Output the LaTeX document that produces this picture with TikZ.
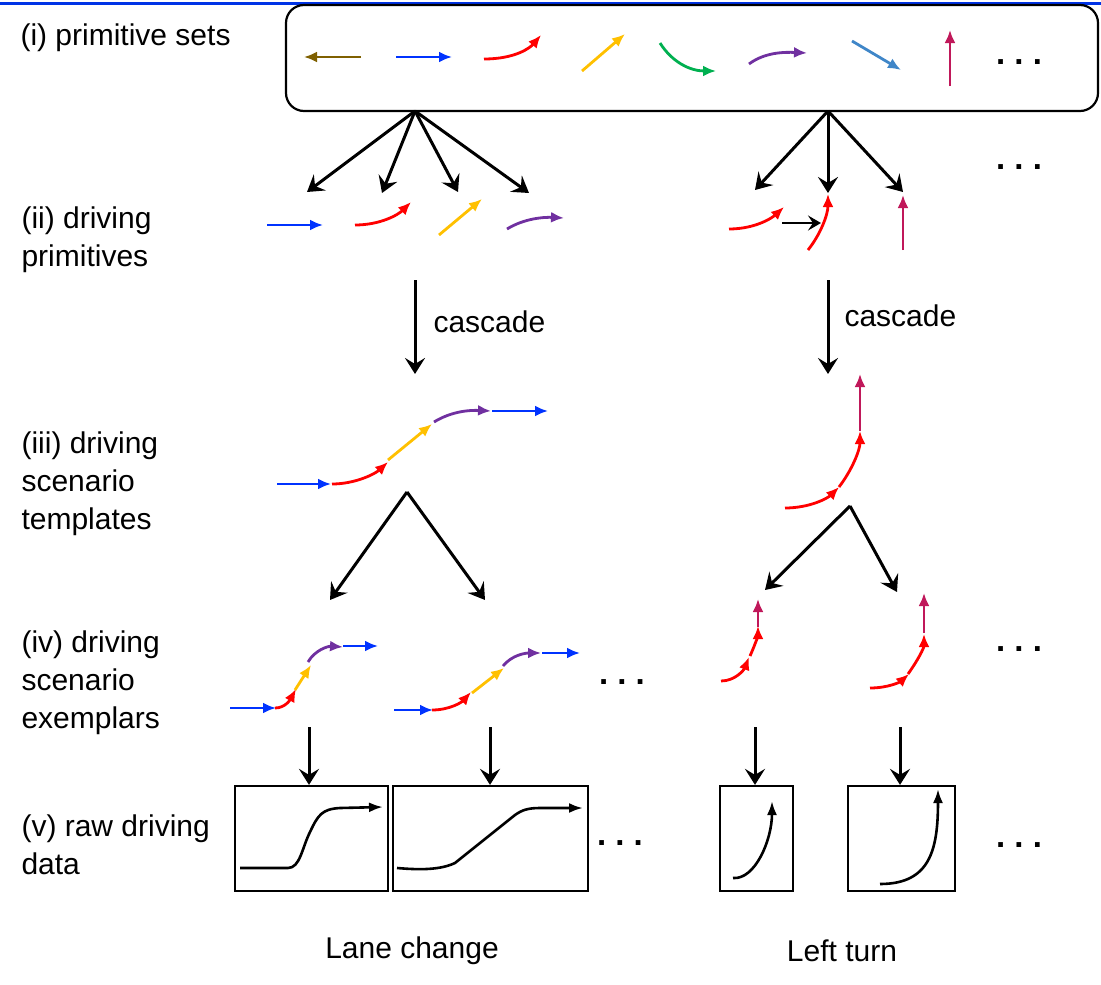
\documentclass[tikz,border=0pt]{standalone}
\usepackage{fontspec}
\setmainfont{Liberation Sans}
\usetikzlibrary{arrows.meta}
\definecolor{rulecol}{HTML}{0033E6}
\definecolor{primbrown}{HTML}{7F6000}
\definecolor{primblue}{HTML}{0033FF}
\definecolor{primred}{HTML}{FF0000}
\definecolor{primyellow}{HTML}{FFC000}
\definecolor{primgreen}{HTML}{00B050}
\definecolor{primpurple}{HTML}{7030A0}
\definecolor{primsteel}{HTML}{3F86C8}
\definecolor{primcrimson}{HTML}{C0185A}

\tikzset{
  prim/.style={line width=2.8pt, -{Latex[length=13pt,width=11pt]}},
  flow/.style={line width=3pt, -{Stealth[length=16pt,width=20pt,inset=6pt]}},
  link/.style={line width=2.8pt, -{Stealth[length=13pt,width=15pt,inset=5pt]}},
  rawbox/.style={draw, line width=2.2pt, inner sep=0pt},
  trace/.style={line width=2.6pt, -{Latex[length=14pt,width=10pt]}},
  lbl/.style={anchor=west, align=left, font=\fontsize{30}{38}\selectfont},
  dots/.style={font=\fontsize{33}{38}\selectfont\bfseries}
}

\begin{document}
\begin{tikzpicture}[x=1pt,y=-1pt]
  \useasboundingbox (0,0) rectangle (1101,985);
  \draw [rulecol, line width=3pt] (0,3) -- (1101,3);

  % (i) primitive sets
  \node[lbl] (lbli) at (17,38) {(i) primitive sets};
  \node[draw, line width=2.2pt, rounded corners=18pt, minimum width=812pt, minimum height=106pt] (sets) at (692,58) {};
  \draw [prim, primbrown] (361,57) -- (304,57);
  \draw [prim, primblue] (396,57) -- (452,57);
  \draw [prim, primred] (484,59) .. controls (515,59) and (530,48) .. (541,35);
  \draw [prim, primyellow] (582,71) -- (625,34);
  \draw [prim, primgreen] (660,43) .. controls (672,62) and (690,71) .. (716,71);
  \draw [prim, primpurple] (749,64) .. controls (765,52) and (785,52) .. (807,53);
  \draw [prim, primsteel] (852,41) -- (901,70);
  \draw [prim, primcrimson] (950,86) -- (950,30);
  \node[dots] (dotsi) at (1019,62) {.\ .\ .};

  % (ii) driving primitives
  \node[lbl] (lblii) at (18,240) {(ii) driving\\primitives};
  \coordinate (fanL) at (415,111);
  \coordinate (fanR) at (828,111);
  \coordinate (iiA) at (307,192);
  \coordinate (iiB) at (382,193);
  \coordinate (iiC) at (458,192);
  \coordinate (iiD) at (529,193);
  \coordinate (iiE) at (755,190);
  \coordinate (iiF) at (828,193);
  \coordinate (iiG) at (903,192);
  \draw [flow] (fanL) -- (iiA);
  \draw [flow] (fanL) -- (iiB);
  \draw [flow] (fanL) -- (iiC);
  \draw [flow] (fanL) -- (iiD);
  \draw [flow] (fanR) -- (iiE);
  \draw [flow] (fanR) -- (iiF);
  \draw [flow] (fanR) -- (iiG);
  \draw [prim, primblue] (267,225) -- (323,225);
  \draw [prim, primred] (355,225) .. controls (380,225) and (398,215) .. (411,202);
  \draw [prim, primyellow] (439,235) -- (482,199);
  \draw [prim, primpurple] (507,229) .. controls (525,218) and (545,217) .. (564,218);
  \draw [prim, primred] (729,229) .. controls (755,229) and (772,218) .. (784,207);
  \coordinate (thenA) at (782,223);
  \coordinate (thenB) at (821,223);
  \draw [link] (thenA) -- (thenB);
  \draw [prim, primred] (808,250) .. controls (820,235) and (828,215) .. (828,194);
  \draw [prim, primcrimson] (903,250) -- (903,195);
  \node[dots] (dotsii) at (1019,167) {.\ .\ .};

  % cascade
  \coordinate (casLa) at (415,280);
  \coordinate (casLb) at (415,374);
  \coordinate (casRa) at (828,280);
  \coordinate (casRb) at (828,374);
  \draw [flow] (casLa) -- (casLb);
  \draw [flow] (casRa) -- (casRb);
  \node[lbl] (casL) at (430,322) {cascade};
  \node[lbl] (casR) at (841,316) {cascade};

  % (iii) driving scenario templates
  \node[lbl] (lbliii) at (18,484) {(iii) driving\\scenario\\templates};
  \draw [prim, primblue] (277,484) -- (331,484);
  \draw [prim, primred] (332,484) .. controls (355,484) and (375,474) .. (388,462);
  \draw [prim, primyellow] (388,460) -- (432,424);
  \draw [prim, primpurple] (434,422) .. controls (452,411) and (470,410) .. (491,411);
  \draw [prim, primblue] (492,411) -- (548,411);
  \draw [prim, primred] (785,508) .. controls (810,508) and (828,498) .. (839,487);
  \draw [prim, primred] (839,487) .. controls (852,470) and (860,450) .. (860,431);
  \draw [prim, primcrimson] (860,431) -- (860,374);

  \coordinate (splitL) at (407,492);
  \coordinate (splitR) at (850,506);
  \coordinate (ivA) at (330,600);
  \coordinate (ivB) at (485,600);
  \coordinate (ivC) at (765,590);
  \coordinate (ivD) at (897,592);
  \draw [flow] (splitL) -- (ivA);
  \draw [flow] (splitL) -- (ivB);
  \draw [flow] (splitR) -- (ivC);
  \draw [flow] (splitR) -- (ivD);

  % (iv) driving scenario exemplars
  \node[lbl] (lbliv) at (18,683) {(iv) driving\\scenario\\exemplars};
  \draw [prim, primblue] (230,708) -- (276,708);
  \draw [prim, primred] (275,708) .. controls (285,708) and (290,700) .. (296,689);
  \draw [prim, primyellow] (295,690) -- (311,665);
  \draw [prim, primpurple] (308,662) .. controls (315,650) and (328,646) .. (343,647);
  \draw [prim, primblue] (343,646) -- (378,646);
  \draw [prim, primblue] (394,710) -- (433,710);
  \draw [prim, primred] (432,710) .. controls (450,710) and (462,702) .. (471,692);
  \draw [prim, primyellow] (472,693) -- (504,668);
  \draw [prim, primpurple] (503,666) .. controls (512,655) and (525,653) .. (541,653);
  \draw [prim, primblue] (542,653) -- (580,653);
  \node[dots] (dotsivL) at (622,682) {.\ .\ .};
  \draw [prim, primred] (721,681) .. controls (735,681) and (744,670) .. (749,657);
  \draw [prim, primred] (750,656) .. controls (755,645) and (758,635) .. (758,626);
  \draw [prim, primcrimson] (758,627) -- (758,599);
  \draw [prim, primred] (870,688) .. controls (888,688) and (900,682) .. (909,674);
  \draw [prim, primred] (908,674) .. controls (918,660) and (924,648) .. (924,634);
  \draw [prim, primcrimson] (924,633) -- (924,593);
  \node[dots] (dotsivR) at (1019,649) {.\ .\ .};

  % (v) raw driving data
  \node[lbl] (lblv) at (18,845) {(v) raw driving\\data};
  \node[rawbox, minimum width=153pt, minimum height=105pt] (rawA) at (311.5,838.5) {};
  \node[rawbox, minimum width=195pt, minimum height=105pt] (rawB) at (490.5,838.5) {};
  \node[rawbox, minimum width=73pt, minimum height=105pt] (rawC) at (756.5,838.5) {};
  \node[rawbox, minimum width=107pt, minimum height=105pt] (rawD) at (901.5,838.5) {};
  \coordinate (exA) at (309,727);
  \coordinate (exB) at (490,727);
  \coordinate (exC) at (755,727);
  \coordinate (exD) at (900,727);
  \draw [flow] (exA) -- (exA |- rawA.north);
  \draw [flow] (exB) -- (exB |- rawB.north);
  \draw [flow] (exC) -- (exC |- rawC.north);
  \draw [flow] (exD) -- (exD |- rawD.north);
  \draw [trace] (240,868) -- (288,868) .. controls (300,868) and (302,848) .. (310,832)
    .. controls (318,815) and (322,809) .. (340,808) -- (383,807);
  \draw [trace] (397,868) .. controls (420,870) and (440,870) .. (455,863) -- (515,815)
    .. controls (522,810) and (528,808) .. (540,808) -- (583,808);
  \draw [trace] (733,878) .. controls (755,880) and (772,840) .. (772,801);
  \draw [trace] (880,884) .. controls (930,884) and (938,850) .. (938,789);
  \node[dots] (dotsvL) at (620,843) {.\ .\ .};
  \node[dots] (dotsvR) at (1019,845) {.\ .\ .};

  \node[font=\fontsize{30}{38}\selectfont] (lane) at (412,951) {Lane change};
  \node[font=\fontsize{30}{38}\selectfont] (turn) at (842,951) {Left turn};
\end{tikzpicture}
\end{document}
